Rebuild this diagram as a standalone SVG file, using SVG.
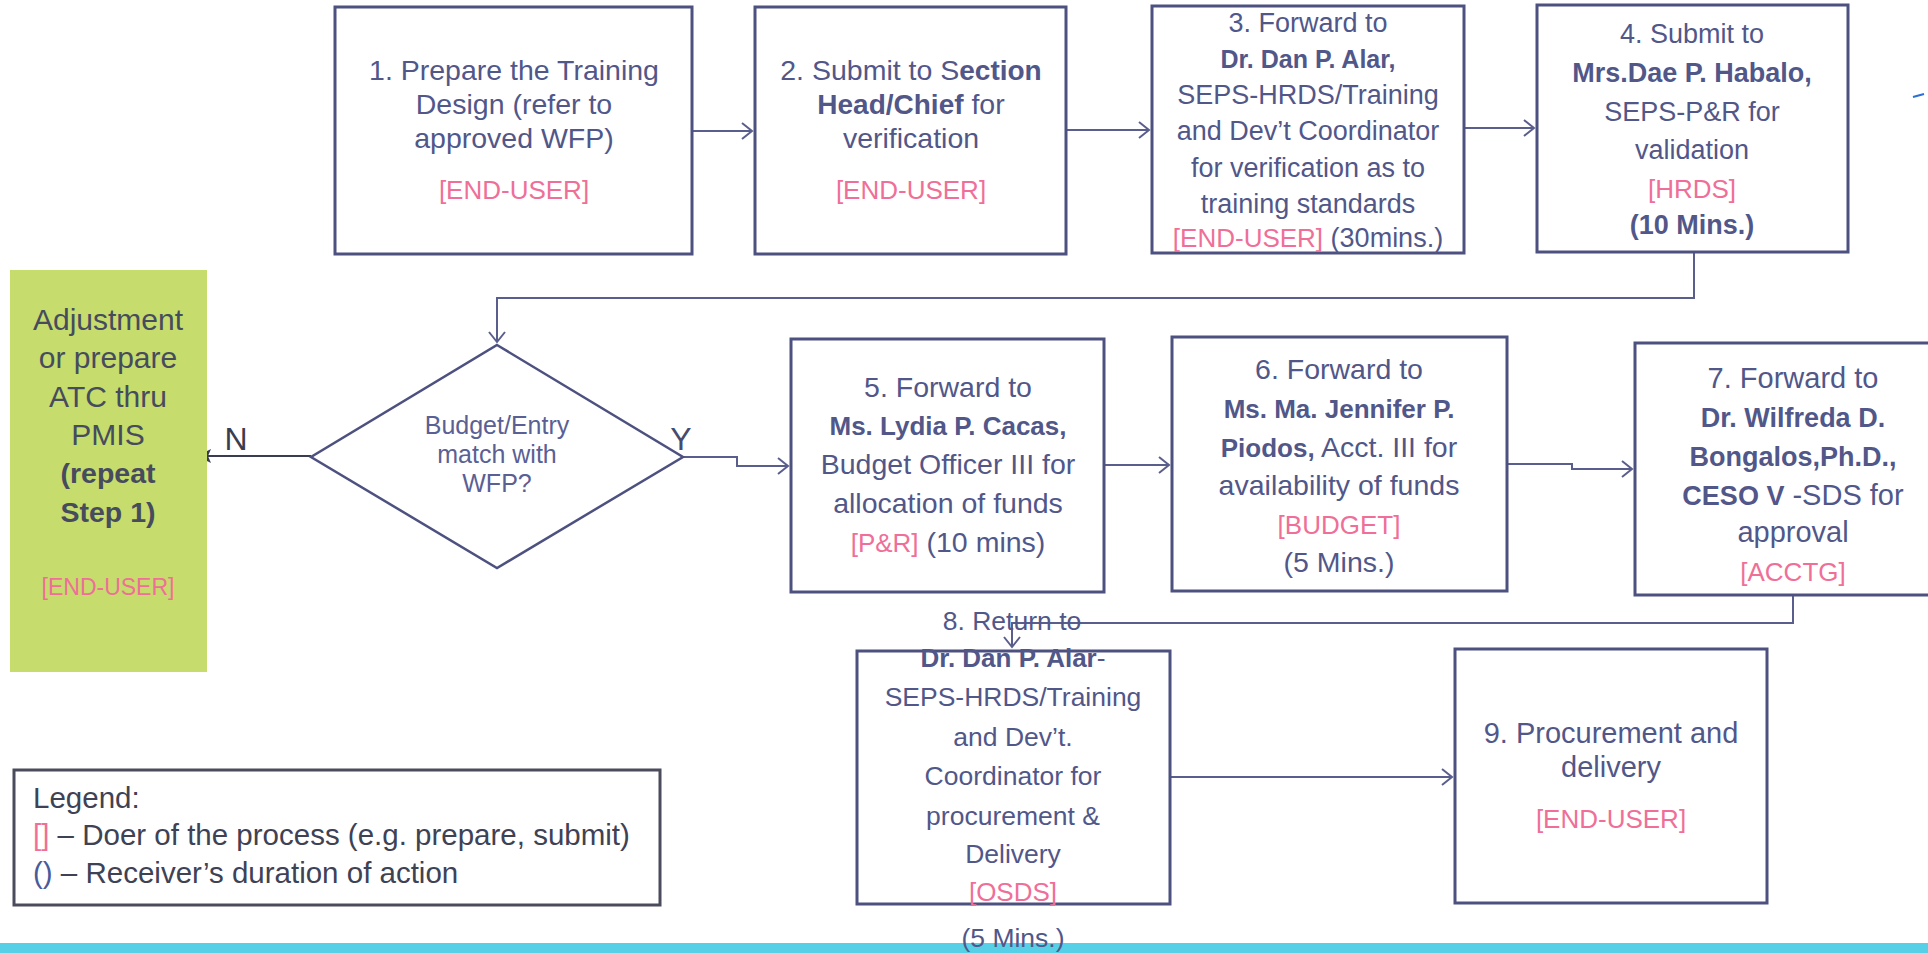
<svg xmlns="http://www.w3.org/2000/svg" width="1928" height="953" viewBox="0 0 1928 953">
<defs>
<style>
.box{fill:#fff;stroke:#4d5180;stroke-width:3}
.t{font-family:"Liberation Sans",Arial,sans-serif;font-size:28.5px;fill:#515789;text-anchor:middle}
.b{font-weight:bold;font-size:26px}
.p{fill:#ef6f98;font-size:26px}
.conn{fill:none;stroke:#5a5e8c;stroke-width:2}
</style>
<marker id="arr" viewBox="-12 -10 14 20" refX="0" refY="0" markerWidth="14" markerHeight="20" markerUnits="userSpaceOnUse" orient="auto">
<path d="M-10,-8 L0,0 L-10,8" fill="none" stroke="#5a5e8c" stroke-width="2"/>
</marker>
<marker id="farr" viewBox="-16 -8 17 16" refX="0" refY="0" markerWidth="17" markerHeight="16" markerUnits="userSpaceOnUse" orient="auto">
<path d="M-14,-7 L0,0 L-14,7 L-11,0 Z" fill="#3a3d4f"/>
</marker>
</defs>
<rect width="1928" height="953" fill="#fff"/>
<rect id="band" x="0" y="943" width="1928" height="10" fill="#56d0e6"/>
<path d="M1913,97 L1924,94" stroke="#2a6fd6" stroke-width="2" fill="none"/>

<g id="connectors">
<path class="conn" d="M692,131 H752" marker-end="url(#arr)"/>
<path class="conn" d="M1066,130 H1149" marker-end="url(#arr)"/>
<path class="conn" d="M1464,128 H1534" marker-end="url(#arr)"/>
<path class="conn" d="M1694,253 V298 H497 V342" marker-end="url(#arr)"/>
<path class="conn" d="M311,456 H197" style="stroke:#3a3d4f" marker-end="url(#farr)"/>
<path class="conn" d="M683,457 H737 V466 H788" marker-end="url(#arr)"/>
<path class="conn" d="M1104,465 H1169" marker-end="url(#arr)"/>
<path class="conn" d="M1507,464 H1572 V469 H1632" marker-end="url(#arr)"/>
<path class="conn" d="M1793,596 V623 H1012 V647" marker-end="url(#arr)"/>
<path class="conn" d="M1170,777 H1452" marker-end="url(#arr)"/>
</g>

<g id="n1">
<rect class="box" x="335" y="7" width="357" height="247"/>
<text class="t"><tspan x="514" y="80">1. Prepare the Training</tspan><tspan x="514" y="114">Design (refer to</tspan><tspan x="514" y="148">approved WFP)</tspan><tspan class="p" x="514" y="199">[END-USER]</tspan></text>
</g>

<g id="n2">
<rect class="box" x="755" y="7" width="311" height="247"/>
<text class="t"><tspan x="911" y="80">2. Submit to S<tspan class="b" style="font-size:28px">ection</tspan></tspan><tspan x="911" y="114"><tspan class="b" style="font-size:28px">Head/Chief</tspan> for</tspan><tspan x="911" y="148">verification</tspan><tspan class="p" x="911" y="199">[END-USER]</tspan></text>
</g>

<g id="n3">
<rect class="box" x="1152" y="6" width="312" height="247"/>
<text class="t" style="font-size:27px"><tspan x="1308" y="32">3. Forward to</tspan><tspan class="b" style="font-size:25px" x="1308" y="68">Dr. Dan P. Alar,</tspan><tspan x="1308" y="104">SEPS-HRDS/Training</tspan><tspan x="1308" y="140">and Dev’t Coordinator</tspan><tspan x="1308" y="177">for verification as to</tspan><tspan x="1308" y="213">training standards</tspan><tspan x="1308" y="247"><tspan class="p">[END-USER]</tspan> (30mins.)</tspan></text>
</g>

<g id="n4">
<rect class="box" x="1537" y="5" width="311" height="247"/>
<text class="t" style="font-size:27px"><tspan x="1692" y="43">4. Submit to</tspan><tspan class="b" style="font-size:27px" x="1692" y="82">Mrs.Dae P. Habalo,</tspan><tspan x="1692" y="121">SEPS-P&amp;R for</tspan><tspan x="1692" y="159">validation</tspan><tspan class="p" x="1692" y="198">[HRDS]</tspan><tspan class="b" style="font-size:27px" x="1692" y="234">(10 Mins.)</tspan></text>
</g>

<g id="adjust">
<rect x="10" y="270" width="197" height="402" fill="#c6dc6c"/>
<text class="t" style="font-size:30px;fill:#464b5e"><tspan x="108" y="330">Adjustment</tspan><tspan x="108" y="368">or prepare</tspan><tspan x="108" y="407">ATC thru</tspan><tspan x="108" y="445">PMIS</tspan><tspan class="b" style="font-size:28.5px" x="108" y="483">(repeat</tspan><tspan class="b" style="font-size:28.5px" x="108" y="522">Step 1)</tspan><tspan class="p" x="108" y="595" style="font-size:23px">[END-USER]</tspan></text>
</g>

<g id="decision">
<polygon points="497,345 683,457 497,568 311,457" fill="#fff" stroke="#4d5180" stroke-width="2.5"/>
<text class="t" style="font-size:25px;fill:#5a6094"><tspan x="497" y="434">Budget/Entry</tspan><tspan x="497" y="463">match with</tspan><tspan x="497" y="492">WFP?</tspan></text>
<text class="t" x="236" y="450" style="font-size:32px;fill:#3a3d4f">N</text>
<text class="t" x="681" y="450" style="font-size:32px;fill:#464b6e">Y</text>
</g>

<g id="n5">
<rect class="box" x="791" y="339" width="313" height="253"/>
<text class="t"><tspan x="948" y="397">5. Forward to</tspan><tspan class="b" x="948" y="435">Ms. Lydia P. Cacas,</tspan><tspan x="948" y="474">Budget Officer III for</tspan><tspan x="948" y="513">allocation of funds</tspan><tspan x="948" y="552"><tspan class="p">[P&amp;R]</tspan> (10 mins)</tspan></text>
</g>

<g id="n6">
<rect class="box" x="1172" y="337" width="335" height="254"/>
<text class="t"><tspan x="1339" y="379">6. Forward to</tspan><tspan class="b" x="1339" y="418">Ms. Ma. Jennifer P.</tspan><tspan x="1339" y="457"><tspan class="b">Piodos,</tspan> Acct. III for</tspan><tspan x="1339" y="495">availability of funds</tspan><tspan class="p" x="1339" y="534">[BUDGET]</tspan><tspan x="1339" y="572">(5 Mins.)</tspan></text>
</g>

<g id="n7">
<rect class="box" x="1635" y="343" width="300" height="252"/>
<text class="t" style="font-size:29px"><tspan x="1793" y="388">7. Forward to</tspan><tspan class="b" style="font-size:27px" x="1793" y="427">Dr. Wilfreda D.</tspan><tspan class="b" style="font-size:27px" x="1793" y="466">Bongalos,Ph.D.,</tspan><tspan x="1793" y="505"><tspan class="b" style="font-size:27px">CESO V</tspan> -SDS for</tspan><tspan x="1793" y="542">approval</tspan><tspan class="p" x="1793" y="581">[ACCTG]</tspan></text>
</g>

<g id="n8">
<rect class="box" x="857" y="651" width="313" height="253"/>
<text class="t" style="font-size:26.5px"><tspan x="1012" y="630">8. Return to</tspan><tspan x="1013" y="667"><tspan class="b">Dr. Dan P. Alar</tspan>-</tspan><tspan x="1013" y="706">SEPS-HRDS/Training</tspan><tspan x="1013" y="746">and Dev’t.</tspan><tspan x="1013" y="785">Coordinator for</tspan><tspan x="1013" y="825">procurement &amp;</tspan><tspan x="1013" y="863">Delivery</tspan><tspan class="p" x="1013" y="901">[OSDS]</tspan><tspan x="1013" y="947">(5 Mins.)</tspan></text>
</g>

<g id="n9">
<rect class="box" x="1455" y="649" width="312" height="254"/>
<text class="t" style="font-size:29px"><tspan x="1611" y="743">9. Procurement and</tspan><tspan x="1611" y="777">delivery</tspan><tspan class="p" x="1611" y="828">[END-USER]</tspan></text>
</g>

<g id="legend">
<rect x="14" y="770" width="646" height="135" fill="#fff" stroke="#4a4b5c" stroke-width="3"/>
<text class="t" style="text-anchor:start;font-size:29.5px;fill:#3e4254"><tspan x="33" y="808">Legend:</tspan><tspan x="33" y="845"><tspan class="p" style="font-size:29.5px">[]</tspan> – Doer of the process (e.g. prepare, submit)</tspan><tspan x="33" y="883"><tspan style="fill:#4a5a9a">()</tspan> – Receiver’s duration of action</tspan></text>
</g>
</svg>
